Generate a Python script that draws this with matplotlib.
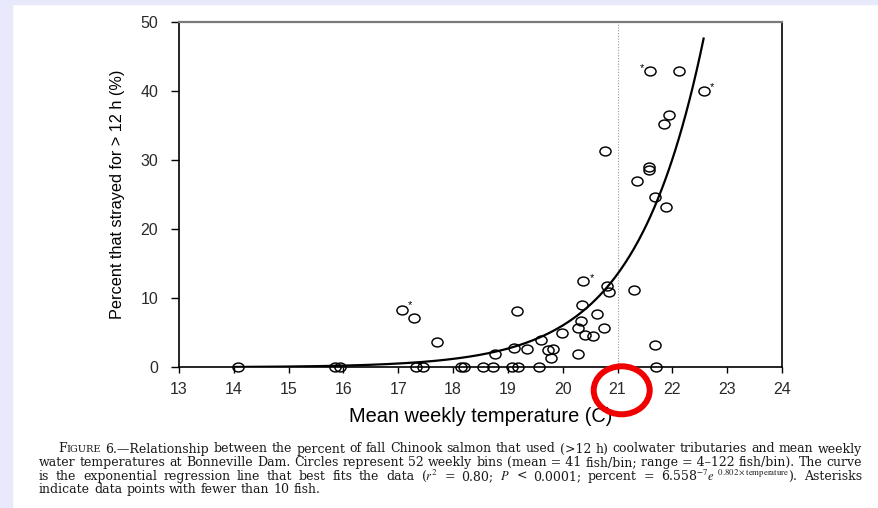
import matplotlib
matplotlib.use("Agg")
import matplotlib.pyplot as plt
import numpy as np
from matplotlib.path import Path
from matplotlib.transforms import Affine2D
from matplotlib.patches import Rectangle, Ellipse

# ---------------- data ----------------
temps = [14.07, 15.85, 15.93, 17.33, 17.46, 18.15, 18.20, 18.54, 18.73, 19.07, 19.19, 19.56, 21.71,
         17.06, 17.28, 17.70, 18.76, 19.11, 19.16, 19.35, 19.61, 19.73, 19.82, 19.79, 19.98,
         20.27, 20.28, 20.33, 20.40, 20.36, 20.37, 20.55, 20.63, 20.76, 20.81, 20.84, 21.30,
         21.68, 21.89, 20.77, 21.60, 22.12, 22.57, 21.94, 21.84, 21.57, 21.58, 21.36, 21.68]
percent = [0, 0, 0, 0, 0, 0, 0, 0, 0, 0, 0, 0, 0,
           8.3, 7.1, 3.7, 2.0, 2.8, 8.2, 2.6, 3.9, 2.5, 2.6, 1.3, 4.9,
           1.9, 5.65, 6.7, 4.7, 9.1, 12.5, 4.5, 7.7, 5.75, 11.8, 10.9, 11.2,
           3.2, 23.2, 31.4, 42.9, 42.9, 40.1, 36.5, 35.2, 29.1, 28.6, 27.0, 24.7]
# asterisks (points with fewer than 10 fish)
ast_x = [17.22, 20.54, 21.45, 22.73]
ast_y = [9.0, 13.0, 43.4, 40.6]
# exponential regression: percent = a * exp(b * T)
reg_a, reg_b = 6.558e-7, 0.802
curve_T = (14.0, 22.57)
xticks = list(range(13, 25))
yticks = [0, 10, 20, 30, 40, 50]
xlabel = "Mean weekly temperature (C)"
ylabel = "Percent that strayed for > 12 h (%)"
highlight_temp = 21

W, H = 879, 508
plt.rcParams["mathtext.fontset"] = "stix"
fig = plt.figure(figsize=(W / 100, H / 100), dpi=100, facecolor="white")

# lavender frame strips
lav = "#E8EAFB"
fig.patches.append(Rectangle((0, 0), 12 / W, 1, transform=fig.transFigure, color=lav, zorder=0))
fig.patches.append(Rectangle((0, 1 - 4 / H), 1, 4 / H, transform=fig.transFigure, color=lav, zorder=0))

ax = fig.add_axes([179 / W, (H - 367.3) / H, 603 / W, 345 / H])
ax.set_xlim(13, 24)
ax.set_ylim(0, 50)
ax.set_xticks(xticks)
ax.set_yticks(yticks)
ax.set_xticklabels([str(t) for t in xticks], family="Liberation Sans")
ax.set_yticklabels([str(t) for t in yticks], family="Liberation Sans")
ax.tick_params(axis="y", direction="out", length=6, width=1.0, pad=9, labelsize=11.5, labelcolor="#2a2a2a")
ax.tick_params(axis="x", direction="out", length=4, width=1.0, pad=6.5, labelsize=11.5, labelcolor="#2a2a2a")
for s in ["left", "bottom", "right"]:
    ax.spines[s].set_color("black")
    ax.spines[s].set_linewidth(1.2)
ax.spines["top"].set_color("#7a7a7a")
ax.spines["top"].set_linewidth(1.6)

ax.axvline(highlight_temp, color="#9a9a9a", lw=0.8, ls=(0, (1, 1.5)), zorder=1)

T = np.linspace(curve_T[0], curve_T[1], 400)
ax.plot(T, reg_a * np.exp(reg_b * T), color="black", lw=1.6, zorder=3)

ell = Affine2D().scale(1.0, 0.8).transform_path(Path.unit_circle())
ax.plot(temps, percent, ls="none", marker=ell, markersize=8.0, markerfacecolor="none",
        markeredgecolor="black", markeredgewidth=1.05, clip_on=False, zorder=4)

for x, y in zip(ast_x, ast_y):
    ax.text(x, y, "*", fontsize=8, ha="center", va="center", family="Liberation Sans", color="black")

fig.text(480.5 / W, 1 - 416.7 / H, xlabel, fontsize=14.4, family="Liberation Sans",
         ha="center", va="center", color="black")
fig.text(118 / W, 1 - 194.5 / H, ylabel, fontsize=11.7, family="Liberation Sans",
         rotation=90, ha="center", va="center", color="black")

# red highlight ellipse around the 21 tick label
fig.patches.append(Ellipse((621.7 / W, 1 - 390.3 / H), 56 / W, 48 / H, transform=fig.transFigure,
                           fill=False, edgecolor="#F00000", lw=4.3, zorder=10))

# ---------------- caption (justified) ----------------
cap_family = "DejaVu Serif"
renderer = fig.canvas.get_renderer()


def measure(s, fs):
    t = fig.text(0, 0, s, fontsize=fs, family=cap_family)
    w = t.get_window_extent(renderer).width
    t.remove()
    return w


line1 = [[("F", 1.0), ("IGURE", 0.78)], "6.—Relationship", "between", "the", "percent", "of", "fall",
         "Chinook", "salmon", "that", "used", "(>12", "h)", "coolwater", "tributaries", "and", "mean", "weekly"]
line2 = ["water", "temperatures", "at", "Bonneville", "Dam.", "Circles", "represent", "52", "weekly", "bins",
         "(mean = 41", "fish/bin;", "range = 4–122", "fish/bin).", "The", "curve"]
line3 = ["is", "the", "exponential", "regression", "line", "that", "best", "fits", "the", "data",
         r"($r^2$", "=", "0.80;", r"$P$", "<", "0.0001;", "percent", "=",
         r"6.558$^{-7}e^{\;\;0.802\times\mathrm{temperature}}$).", "Asterisks"]
line4 = ["indicate", "data", "points", "with", "fewer", "than", "10", "fish."]

# choose the caption size so that line 2 with ordinary spaces fills its width
ref_fs = 10.0
nat = measure(" ".join(line2), ref_fs)
cap_fs = min(9.4, ref_fs * 823.0 / nat)
space_w = measure("a b", cap_fs) - measure("ab", cap_fs)


def place_line(tokens, x0, x1, ybase, justify=True):
    toks = []
    for tok in tokens:
        segs = tok if isinstance(tok, list) else [(tok, 1.0)]
        ws = [measure(s, cap_fs * f) for s, f in segs]
        toks.append((segs, ws))
    total = sum(sum(ws) for _, ws in toks)
    gap = (x1 - x0 - total) / (len(toks) - 1) if justify else space_w
    x = x0
    for segs, ws in toks:
        for (s, f), w in zip(segs, ws):
            fig.text(x / W, 1 - ybase / H, s, fontsize=cap_fs * f, family=cap_family,
                     ha="left", va="baseline", color="#1a1a1a")
            x += w
        x += gap


place_line(line1, 58, 862, 452.5)
place_line(line2, 39, 862, 466.3)
place_line(line3, 39, 862, 480.0)
place_line(line4, 39, 862, 492.8, justify=False)

fig.savefig("out.png", dpi=100, facecolor="white")
